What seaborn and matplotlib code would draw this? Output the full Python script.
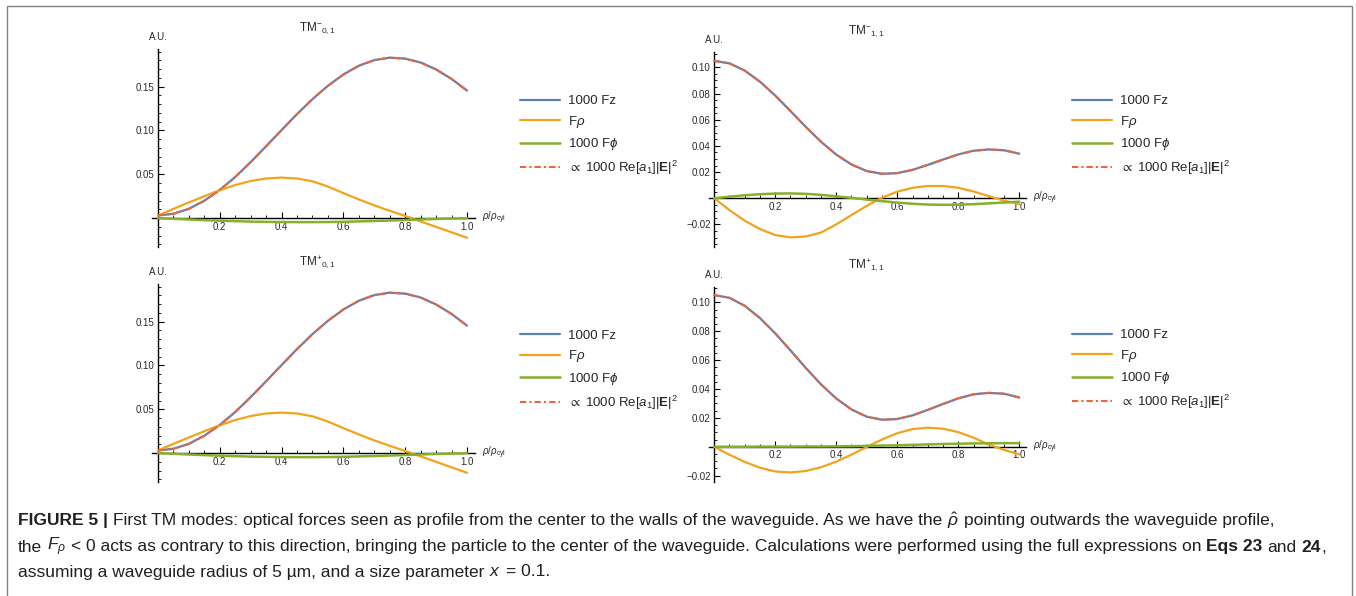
import numpy as np
import pandas as pd
import seaborn as sns
import matplotlib.pyplot as plt
from matplotlib.patches import Rectangle

sns.set_style('white')
plt.rcParams['font.family'] = ['Liberation Sans', 'DejaVu Sans']
plt.rcParams['mathtext.fontset'] = 'custom'
plt.rcParams['mathtext.rm'] = 'Liberation Sans'
plt.rcParams['mathtext.it'] = 'Liberation Sans:italic'
plt.rcParams['mathtext.bf'] = 'Liberation Sans:bold'
plt.rcParams['mathtext.fallback'] = 'stixsans'

W, H = 1356, 596

# radial position rho/rho_cyl
r = [0.00, 0.05, 0.10, 0.15, 0.20, 0.25, 0.30, 0.35, 0.40, 0.45, 0.50,
     0.55, 0.60, 0.65, 0.70, 0.75, 0.80, 0.85, 0.90, 0.95, 1.00]

# TM 0,1 (minus and plus look the same)
fz01 = [0.0030, 0.0049, 0.0106, 0.0198, 0.0321, 0.0469, 0.0639, 0.0820, 0.1005, 0.1187, 0.1358,
        0.1510, 0.1639, 0.1739, 0.1803, 0.1831, 0.1820, 0.1776, 0.1696, 0.1589, 0.1455]
frho01 = [0.0030, 0.0105, 0.0178, 0.0250, 0.0318, 0.0377, 0.0423, 0.0452, 0.0462, 0.0452, 0.0420,
          0.0360, 0.0285, 0.0213, 0.0145, 0.0083, 0.0025, -0.0038, -0.0100, -0.0162, -0.0225]
fphi01 = [0.0000, -0.0008, -0.0016, -0.0023, -0.0030, -0.0035, -0.0040, -0.0043, -0.0045, -0.0046, -0.0046,
          -0.0045, -0.0042, -0.0038, -0.0033, -0.0028, -0.0022, -0.0016, -0.0010, -0.0005, -0.0002]
ere01 = fz01

# TM- 1,1
fz11m = [0.1050, 0.1031, 0.0976, 0.0891, 0.0785, 0.0667, 0.0546, 0.0432, 0.0334, 0.0258, 0.0208,
         0.0187, 0.0192, 0.0217, 0.0255, 0.0296, 0.0335, 0.0363, 0.0373, 0.0367, 0.0341]
frho11m = [0.0000, -0.0090, -0.0171, -0.0235, -0.0281, -0.0299, -0.0292, -0.0262, -0.0200, -0.0128, -0.0058,
           0.0005, 0.0050, 0.0080, 0.0094, 0.0094, 0.0080, 0.0052, 0.0016, -0.0018, -0.0045]
fphi11m = [0.0000, 0.0012, 0.0023, 0.0031, 0.0036, 0.0037, 0.0034, 0.0026, 0.0015, 0.0003, -0.0010,
           -0.0022, -0.0033, -0.0042, -0.0048, -0.0050, -0.0049, -0.0045, -0.0039, -0.0032, -0.0026]
ere11m = fz11m

# TM+ 1,1
fz11p = fz11m
frho11p = [0.0000, -0.0055, -0.0105, -0.0145, -0.0171, -0.0178, -0.0168, -0.0142, -0.0103, -0.0055, -0.0002,
           0.0050, 0.0094, 0.0122, 0.0132, 0.0125, 0.0101, 0.0063, 0.0015, -0.0022, -0.0053]
fphi11p = [0.0000, 0.0000, 0.0000, 0.0001, 0.0001, 0.0001, 0.0002, 0.0002, 0.0003, 0.0004, 0.0006,
           0.0008, 0.0010, 0.0013, 0.0016, 0.0019, 0.0021, 0.0023, 0.0024, 0.0025, 0.0025]
ere11p = fz11p

xticks = [0.2, 0.4, 0.6, 0.8, 1.0]
xlabels = ['0.2', '0.4', '0.6', '0.8', '1.0']
yticks01 = [0.05, 0.10, 0.15]
ylabels01 = ['0.05', '0.10', '0.15']
yticks11 = [-0.02, 0.02, 0.04, 0.06, 0.08, 0.10]
ylabels11 = ['\u22120.02', '0.02', '0.04', '0.06', '0.08', '0.10']

labels = ['1000 Fz', r'F$\rho$', r'1000 F$\phi$', r'$\propto$ 1000 Re[$a_1$]|$\mathbf{E}$|$^2$']

BLUE, ORANGE, GREEN, RED = '#5E81B5', '#F2A31C', '#86B02A', '#EE6536'
GREY = '#2a2a2a'

fig = plt.figure(figsize=(W / 100, H / 100), dpi=100)


def add_px_axes(x0, y0, x1, y1):
    return fig.add_axes([x0 / W, 1 - y1 / H, (x1 - x0) / W, (y1 - y0) / H])


def panel(box, xlim, ylim, fz, frho, fphi, ere, yt, yl, ystep, title, tpos, legy, legx):
    ax = add_px_axes(*box)
    kw = dict(ax=ax, zorder=3, solid_joinstyle='round', solid_capstyle='round')
    sns.lineplot(x=r, y=fz, color=BLUE, lw=1.6, label=labels[0], **kw)
    sns.lineplot(x=r, y=frho, color=ORANGE, lw=1.6, label=labels[1], **kw)
    sns.lineplot(x=r, y=fphi, color=GREEN, lw=1.8, label=labels[2], **kw)
    sns.lineplot(x=r, y=ere, ax=ax, color=RED, lw=1.5, label=labels[3], zorder=4,
                 linestyle=(0, (3, 1.5, 1, 1.5)))
    ax.set_xlim(*xlim)
    ax.set_ylim(*ylim)
    ax.set_facecolor('none')
    ax.set_xlabel('')
    ax.set_ylabel('')
    for s in ['top', 'right']:
        ax.spines[s].set_visible(False)
    for s in ['left', 'bottom']:
        ax.spines[s].set_position(('data', 0))
        ax.spines[s].set_color('black')
        ax.spines[s].set_linewidth(1.0)
        ax.spines[s].set_zorder(2)
    ax.set_xticks(xticks)
    ax.set_xticklabels(xlabels)
    ax.set_xticks([v for v in np.arange(0.05, 1.01, 0.05) if min(abs(v - t) for t in xticks) > 1e-6],
                  minor=True)
    ax.set_yticks(yt)
    ax.set_yticklabels(yl)
    ymin = np.ceil(ylim[0] / ystep) * ystep
    ax.set_yticks([v for v in np.arange(ymin, ylim[1], ystep)
                   if abs(v) > 1e-9 and min(abs(v - t) for t in yt) > 1e-9], minor=True)
    ax.tick_params(which='both', direction='in', bottom=True, left=True, colors='black',
                   labelcolor=GREY)
    ax.tick_params(which='major', length=4, width=0.8, labelsize=7, pad=2.5)
    ax.tick_params(which='minor', length=2, width=0.6)
    ax.annotate('A.U.', xy=(0, 1), xycoords=('data', 'axes fraction'), xytext=(0, 7),
                textcoords='offset pixels', ha='center', va='bottom', fontsize=7, color=GREY)
    ax.annotate(r'$\rho/\rho_{\rm cyl}$', xy=(1, 0), xycoords=('axes fraction', 'data'),
                xytext=(7, 0), textcoords='offset pixels', ha='left', va='center',
                fontsize=7, color=GREY)
    fig.text(tpos[0] / W, 1 - tpos[1] / H, title, ha='center', va='center', fontsize=8.5,
             color=GREY)
    ax.legend(loc='center left', bbox_to_anchor=(legx / W, 1 - legy / H),
              bbox_transform=fig.transFigure, frameon=False, fontsize=9.5,
              handlelength=3.0, handletextpad=0.6, labelspacing=0.5,
              borderpad=0, borderaxespad=0)
    return ax


panel((151.8, 49, 474.7, 247), (-0.02, 1.025), (-0.033, 0.193), fz01, frho01, fphi01, ere01,
      yticks01, ylabels01, 0.01, r'TM$^{-}$$_{0,1}$', (317, 28), 136, 520)
panel((709.3, 51.7, 1025.7, 246.7), (-0.016, 1.021), (-0.037, 0.112), fz11m, frho11m, fphi11m, ere11m,
      yticks11, ylabels11, 0.005, r'TM$^{-}$$_{1,1}$', (866.7, 31), 136, 1072)
panel((151.8, 284, 474.7, 482), (-0.02, 1.025), (-0.033, 0.193), fz01, frho01, fphi01, ere01,
      yticks01, ylabels01, 0.01, r'TM$^{+}$$_{0,1}$', (317, 263), 370.5, 520)
panel((709.3, 286.7, 1025.7, 481.7), (-0.016, 1.021), (-0.0242, 0.1108), fz11p, frho11p, fphi11p, ere11p,
      yticks11, ylabels11, 0.005, r'TM$^{+}$$_{1,1}$', (866.7, 266), 370, 1072)

# outer frame
fig.add_artist(Rectangle((7 / W, -0.05), (1352 - 7) / W, 1.05 - 6 / H, transform=fig.transFigure,
                         fill=False, edgecolor='#808080', lw=1.0))

# caption, drawn piece by piece
renderer = fig.canvas.get_renderer()
CAP = 12.5


def width_of(s, **kw):
    t = fig.text(0, 0, s, fontsize=CAP, **kw)
    w = t.get_window_extent(renderer).width
    t.remove()
    return w


SP = width_of('a a') - width_of('aa')


def caption_line(y, parts, x=18):
    for s, bold, gap in parts:
        t = fig.text(x / W, 1 - y / H, s, fontsize=CAP, fontweight='bold' if bold else 'normal',
                     ha='left', va='center', color='#231F20')
        x += t.get_window_extent(renderer).width + (SP if gap else 0)


caption_line(521, [('FIGURE 5 |', True, True),
                   ('First TM modes: optical forces seen as profile from the center to the walls of the '
                    'waveguide. As we have the', False, True),
                   (r'$\hat{\rho}$', False, True),
                   ('pointing outwards the waveguide profile,', False, False)])
caption_line(547, [('the', False, True),
                   (r'$F_\rho$', False, True),
                   ('< 0 acts as contrary to this direction, bringing the particle to the center of the '
                    'waveguide. Calculations were performed using the full expressions on', False, True),
                   ('Eqs 23', True, True),
                   ('and', False, True),
                   ('24', True, False),
                   (',', False, False)])
caption_line(572, [('assuming a waveguide radius of 5 \u00b5m, and a size parameter', False, True),
                   (r'$x$', False, True),
                   ('= 0.1.', False, False)])

fig.savefig('out.png', dpi=100)
